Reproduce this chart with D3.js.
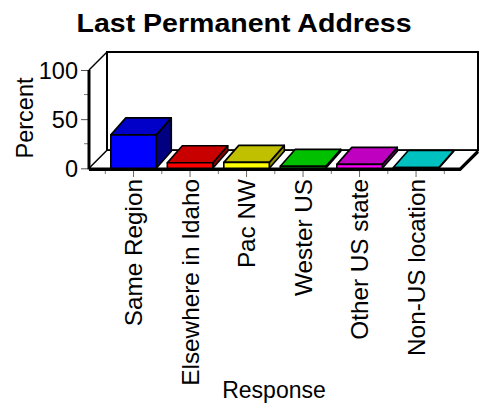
<!DOCTYPE html>
<html><head><meta charset="utf-8">
<script src="https://cdn.jsdelivr.net/npm/d3@7"></script>
<style>body{margin:0;background:#fff} text{font-family:"Liberation Sans",Arial,Helvetica,sans-serif;fill:#000}</style>
</head><body><svg id="c" width="485" height="404"></svg>
<script>
const categories = ["Same Region","Elsewhere in Idaho","Pac NW","Wester US","Other US state","Non-US location"];
const values = [34, 5.6, 6, 2, 4, 0.8];
const frontColors = ["#0000ff","#ff0000","#ffff00","#00ff00","#ff00ff","#00ffff"];
const topColors = ["#0000c8","#c80000","#c0c000","#00c000","#c000c0","#00c0c0"];
const sideColors = ["#000080","#900000","#909000","#008000","#800080","#008080"];
const yTicks = [0, 50, 100];
const yMinorTicks = [25, 75];
const titleText = "Last Permanent Address";
const xTitle = "Response";
const yTitle = "Percent";

const svg = d3.select("#c");
const floorL = 89, floorR = 460, DX = 18, DY = 18;  // floor / wall depth
const BDX = 15, BDY = 17;                             // bar depth
const y = d3.scaleLinear().domain([0, 100]).range([168.3, 70]);
const x = d3.scaleBand().domain(categories).range([105.3, 444.3]).paddingInner(0.195).paddingOuter(0.0975);
const base = y(0);

// back wall
svg.append("rect").attr("x", floorL + DX).attr("y", y(100) - DY)
  .attr("width", floorR - floorL).attr("height", y(0) - y(100))
  .attr("fill", "#fff").attr("stroke", "#000").attr("stroke-width", 2);

// floor
svg.append("polygon")
  .attr("points", [[floorL, base], [floorR, base], [floorR + DX, base - DY], [floorL + DX, base - DY]].map(p => p.join(",")).join(" "))
  .attr("fill", "#fff").attr("stroke", "#000").attr("stroke-width", 1.5).attr("stroke-linejoin", "round");
svg.append("path").attr("d", `M${floorL},${base + 1.3}H${floorR}L${floorR + DX},${base - DY + 1.3}`)
  .attr("fill", "none").attr("stroke", "#000").attr("stroke-width", 3);

// bars
const g = svg.append("g").attr("stroke", "#000").attr("stroke-width", 1.6).attr("stroke-linejoin", "round");
categories.forEach((c, i) => {
  const bx = x(c), w = x.bandwidth(), t = y(values[i]);
  g.append("polygon").attr("fill", sideColors[i])
    .attr("points", [[bx + w, t], [bx + w + BDX, t - BDY], [bx + w + BDX, base - BDY], [bx + w, base]].map(p => p.join(",")).join(" "));
  g.append("polygon").attr("fill", topColors[i])
    .attr("points", [[bx, t], [bx + BDX, t - BDY], [bx + w + BDX, t - BDY], [bx + w, t]].map(p => p.join(",")).join(" "));
  g.append("rect").attr("fill", frontColors[i]).attr("x", bx).attr("y", t).attr("width", w).attr("height", base - t);
});
// re-draw floor front edge over bars bottom
svg.append("line").attr("x1", floorL).attr("x2", floorR).attr("y1", base + 1.3).attr("y2", base + 1.3)
  .attr("stroke", "#000").attr("stroke-width", 3);

// y axis
const yAxis = svg.append("g").attr("transform", `translate(${floorL},0)`)
  .call(d3.axisLeft(y).tickValues(yTicks).tickSize(8).tickPadding(3));
yAxis.select(".domain").remove();
yAxis.selectAll(".tick line").attr("stroke", "#555");
yAxis.selectAll(".tick text").style("font-size", "23.5px").attr("dy", "0.36em");
yAxis.selectAll(".minor").data(yMinorTicks).enter().append("line")
  .attr("x1", -5).attr("x2", 0).attr("y1", d => y(d)).attr("y2", d => y(d)).attr("stroke", "#777");
svg.append("line").attr("x1", floorL).attr("x2", floorL).attr("y1", y(100)).attr("y2", base + 1)
  .attr("stroke", "#000").attr("stroke-width", 3);
svg.append("line").attr("x1", floorL).attr("y1", y(100)).attr("x2", floorL + DX).attr("y2", y(100) - DY)
  .attr("stroke", "#000").attr("stroke-width", 1.5);

// x axis
const axY = base + 2.7;
const xAxis = svg.append("g").attr("transform", `translate(0,${axY})`)
  .call(d3.axisBottom(x).tickSize(6).tickSizeOuter(0));
xAxis.select(".domain").remove();
xAxis.selectAll(".tick line").attr("stroke", "#666");
xAxis.selectAll(".tick text").style("font-size", "24.3px")
  .attr("transform", "rotate(-90)").attr("x", -8).attr("y", 0).attr("dy", "0.36em").attr("text-anchor", "end");
const bounds = d3.range(categories.length + 1).map(i => x.range()[0] + i * x.step());
xAxis.selectAll(".minor").data(bounds).enter().append("line")
  .attr("x1", d => d).attr("x2", d => d).attr("y1", 0).attr("y2", 3).attr("stroke", "#777");

// titles
svg.append("text").attr("x", 244).attr("y", 31.7).attr("text-anchor", "middle")
  .attr("textLength", 335).attr("lengthAdjust", "spacingAndGlyphs")
  .style("font-size", "25px").style("font-weight", "bold").text(titleText);
svg.append("text").attr("x", 274).attr("y", 398).attr("text-anchor", "middle")
  .style("font-size", "23px").text(xTitle);
svg.append("text").attr("transform", "rotate(-90)").attr("x", -118).attr("y", 33).attr("text-anchor", "middle")
  .style("font-size", "23.5px").text(yTitle);
</script></body></html>
